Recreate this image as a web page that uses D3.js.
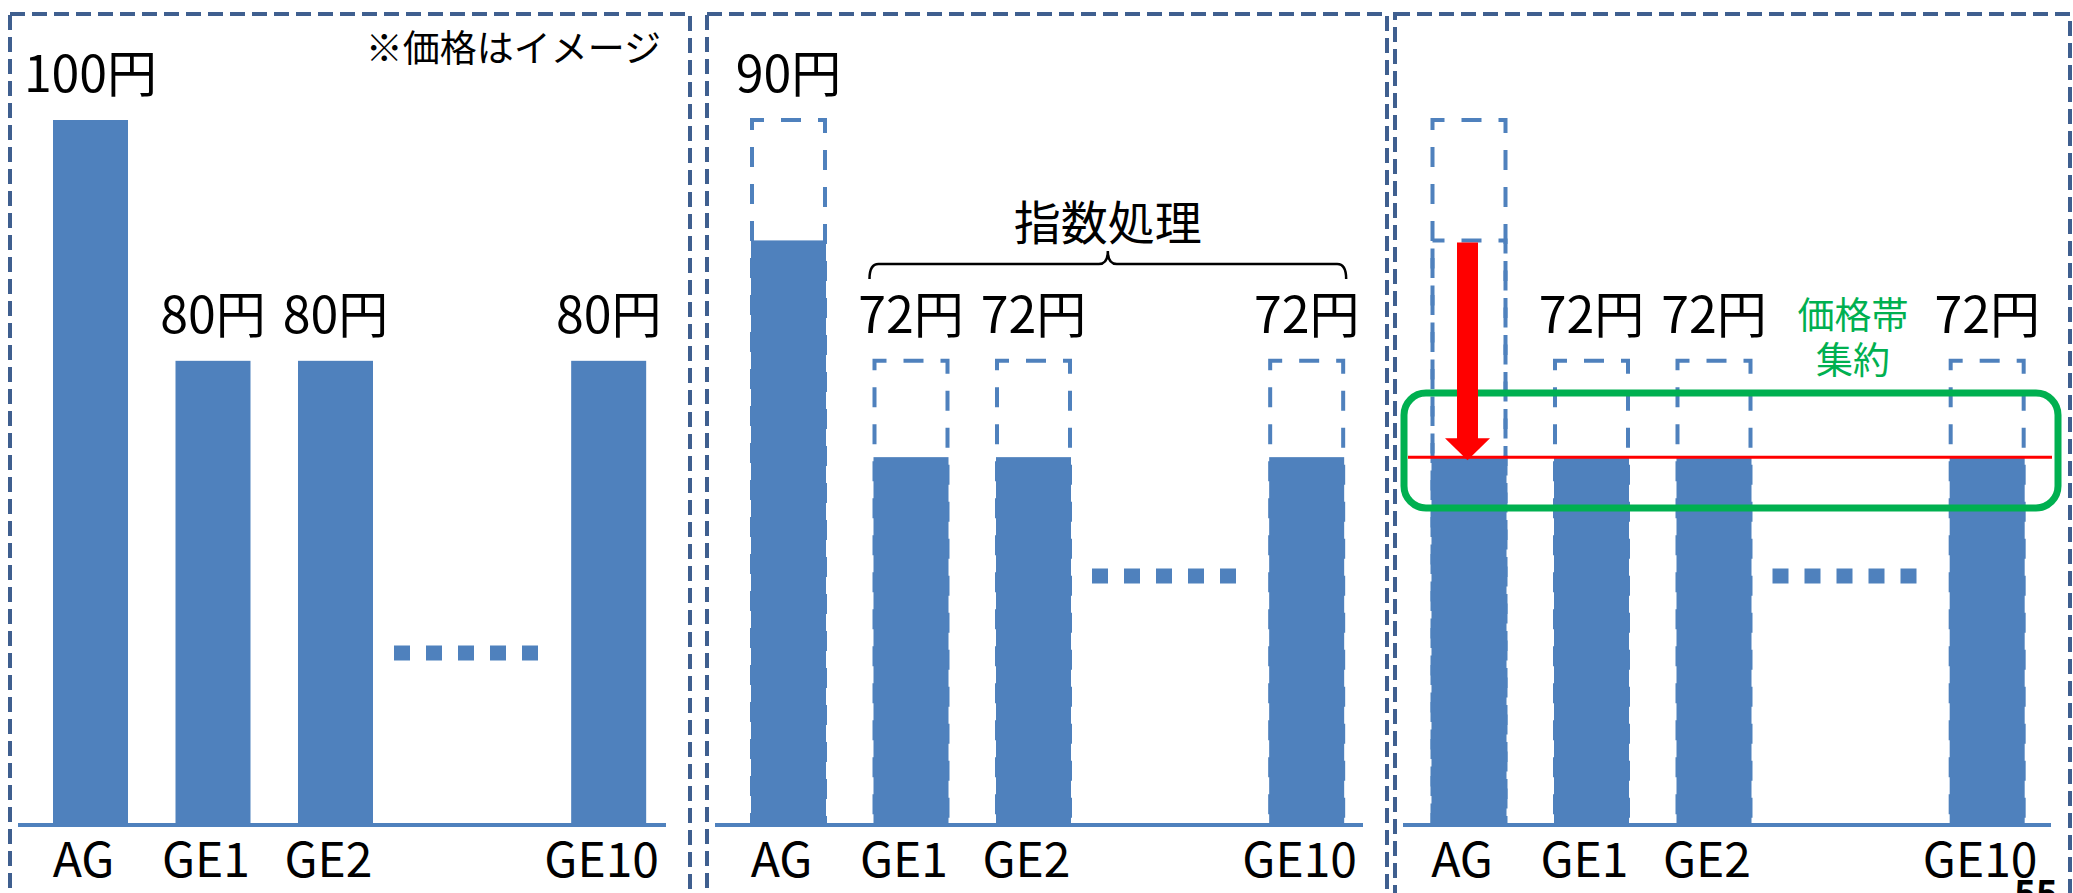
<!DOCTYPE html>
<html>
<head>
<meta charset="utf-8">
<script src="https://cdn.jsdelivr.net/npm/d3@7"></script>
<style>
  body { margin: 0; background: #fff; }
  svg { display: block; font-family: "Noto Sans CJK JP", "Noto Sans", sans-serif; }
</style>
</head>
<body>
<svg width="2073" height="893"></svg>
<script>
// Prices (image only)
var categories = ['AG', 'GE1', 'GE2', 'GE10'];
var originalPrice = [100, 80, 80, 80];
var indexedPrice = [90, 72, 72, 72];
var bandedPrice = [72, 72, 72, 72];
var slotIndex = [0, 1, 2, 4.23]; // GE3..GE9 are skipped ("....")

var noteText = '※価格はイメージ';
var braceText = '指数処理';
var bandText = ['価格帯', '集約'];

var barColor = '#4f81bd';
var borderColor = '#3f5f8f';
var green = '#00b050';

var svg = d3.select('svg');

var baseY = 825;
var y = d3.scaleLinear().domain([41.45, 100]).range([baseY, 120]);
var barW = 75;

// left, right of each dashed panel; x of AG centre; y of the "...."
var panels = [
	{left: 10, right: 690, ag: 90.5, dotsY: 653,
		solid: originalPrice, ghosts: [], labels: originalPrice, labelFrom: originalPrice, labelShow: [1, 1, 1, 1]},
	{left: 707, right: 1387, ag: 788.5, dotsY: 576,
		solid: indexedPrice, ghosts: [originalPrice], labels: indexedPrice, labelFrom: originalPrice, labelShow: [1, 1, 1, 1]},
	{left: 1395, right: 2070, ag: 1469, dotsY: 576,
		solid: bandedPrice, ghosts: [originalPrice, indexedPrice], labels: indexedPrice, labelFrom: originalPrice, labelShow: [0, 1, 1, 1]}
];

function label(v) { return v + '円'; }

panels.forEach(function(p, pi) {
	var g = svg.append('g');
	var x = d3.scaleLinear().domain([0, 1]).range([p.ag, p.ag + 122.5]);
	var cx = function(d, i) { return x(slotIndex[i]); };

	// dashed frame
	g.append('rect')
		.attr('x', p.left).attr('y', 14)
		.attr('width', p.right - p.left).attr('height', 1000)
		.attr('fill', 'none')
		.attr('stroke', borderColor)
		.attr('stroke-width', 4)
		.attr('stroke-dasharray', '15,7');

	// ghost (previous price) outlines
	p.ghosts.forEach(function(gv) {
		g.selectAll(null)
			.data(gv.map(function(v, i) { return {v: v, i: i}; })
				.filter(function(d) { return d.v > p.solid[d.i]; }))
			.enter()
			.append('rect')
			.attr('x', function(d) { return x(slotIndex[d.i]) - barW / 2 + 1; })
			.attr('y', function(d) { return y(d.v); })
			.attr('width', barW - 2)
			.attr('height', function(d) { return baseY - y(d.v); })
			.attr('fill', 'none')
			.attr('stroke', barColor)
			.attr('stroke-width', 4)
			.attr('stroke-dasharray', '20,17')
			.attr('stroke-dashoffset', 8);
	});

	// bars
	g.selectAll('.bar')
		.data(p.solid)
		.enter()
		.append('rect')
		.attr('class', 'bar')
		.attr('x', function(d, i) { return cx(d, i) - barW / 2; })
		.attr('y', function(d) { return y(d); })
		.attr('width', barW)
		.attr('height', function(d) { return baseY - y(d); })
		.attr('fill', barColor);

	// axis line
	g.append('line')
		.attr('x1', p.left + 8).attr('x2', p.left + 656)
		.attr('y1', baseY).attr('y2', baseY)
		.attr('stroke', barColor)
		.attr('stroke-width', 4);

	// "....." between GE2 and GE10
	g.append('line')
		.attr('x1', p.ag + 303.5).attr('x2', p.ag + 303.5 + 144)
		.attr('y1', p.dotsY).attr('y2', p.dotsY)
		.attr('stroke', barColor)
		.attr('stroke-width', 15)
		.attr('stroke-dasharray', '16,16');

	// price labels
	g.selectAll('.price')
		.data(p.labels.map(function(v, i) { return {v: v, i: i}; })
			.filter(function(d) { return p.labelShow[d.i]; }))
		.enter()
		.append('text')
		.attr('class', 'price')
		.attr('x', function(d) { return x(slotIndex[d.i]); })
		.attr('y', function(d) { return y(p.labelFrom[d.i]) - 28; })
		.attr('text-anchor', 'middle')
		.attr('font-size', 50)
		.text(function(d) { return label(d.v); });

	// category labels
	g.selectAll('.cat')
		.data(categories)
		.enter()
		.append('text')
		.attr('class', 'cat')
		.attr('x', function(d, i) { return x(slotIndex[i]) - 7; })
		.attr('y', 877)
		.attr('text-anchor', 'middle')
		.attr('font-size', 48)
		.text(function(d) { return d; });

	p.x = x;
});

// panel 1 note
svg.append('text')
	.attr('x', 661).attr('y', 62)
	.attr('text-anchor', 'end')
	.attr('font-size', 37)
	.text(noteText);

// panel 2 brace over the GE bars
var p2 = panels[1];
var bx1 = p2.x(slotIndex[1]) - barW / 2 - 4;
var bx2 = p2.x(slotIndex[3]) + barW / 2 + 2;
var bm = (bx1 + bx2) / 2;
var by = 264;
svg.append('path')
	.attr('d', 'M' + bx1 + ',' + (by + 15) +
		'Q' + bx1 + ',' + by + ' ' + (bx1 + 9) + ',' + by +
		'L' + (bm - 9) + ',' + by +
		'Q' + bm + ',' + by + ' ' + bm + ',' + (by - 13) +
		'Q' + bm + ',' + by + ' ' + (bm + 9) + ',' + by +
		'L' + (bx2 - 9) + ',' + by +
		'Q' + bx2 + ',' + by + ' ' + bx2 + ',' + (by + 15))
	.attr('fill', 'none')
	.attr('stroke', '#000')
	.attr('stroke-width', 2.5);
svg.append('text')
	.attr('x', bm).attr('y', 240)
	.attr('text-anchor', 'middle')
	.attr('font-size', 47)
	.text(braceText);

// panel 3: price band
var p3 = panels[2];
var bandY = y(bandedPrice[0]);
svg.append('rect')
	.attr('x', 1404).attr('y', 393)
	.attr('width', 654).attr('height', 115)
	.attr('rx', 22).attr('ry', 22)
	.attr('fill', 'none')
	.attr('stroke', green)
	.attr('stroke-width', 7);
svg.append('line')
	.attr('x1', 1408).attr('x2', 2052)
	.attr('y1', bandY).attr('y2', bandY)
	.attr('stroke', '#ff0000')
	.attr('stroke-width', 3);

var ax = p3.x(slotIndex[0]) - 1.5;
var aTop = y(indexedPrice[0]) + 2;
var aTip = y(bandedPrice[0]) + 3;
svg.append('polygon')
	.attr('points', [
		[ax - 10.5, aTop], [ax + 10.5, aTop], [ax + 10.5, aTip - 22],
		[ax + 22.5, aTip - 22], [ax, aTip], [ax - 22.5, aTip - 22], [ax - 10.5, aTip - 22]
	].map(function(d) { return d.join(','); }).join(' '))
	.attr('fill', '#ff0000');

svg.selectAll('.band')
	.data(bandText)
	.enter()
	.append('text')
	.attr('class', 'band')
	.attr('x', 1853)
	.attr('y', function(d, i) { return 329 + i * 45; })
	.attr('text-anchor', 'middle')
	.attr('font-size', 37)
	.attr('fill', green)
	.text(function(d) { return d; });

// page number, cut by the slide edge
svg.append('text')
	.attr('x', 2014).attr('y', 907)
	.attr('font-size', 37)
	.attr('font-weight', 'bold')
	.text('55');
</script>
</body>
</html>
